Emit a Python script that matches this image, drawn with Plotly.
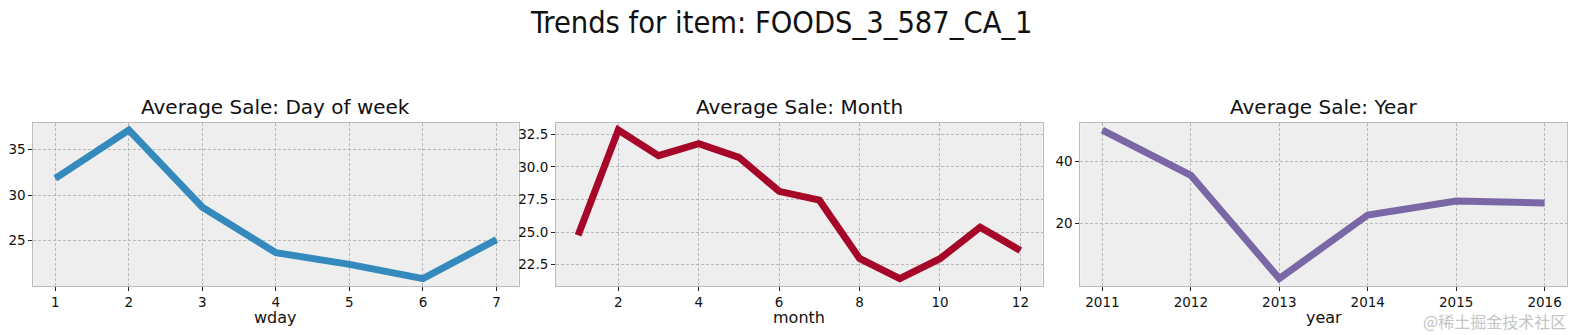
import plotly.graph_objects as go

# ---- data ----
wday = [1, 2, 3, 4, 5, 6, 7]
wday_sales = [31.83, 37.13, 28.66, 23.66, 22.38, 20.82, 25.10]

month = [1, 2, 3, 4, 5, 6, 7, 8, 9, 10, 11, 12]
month_sales = [24.77, 32.82, 30.86, 31.78, 30.73, 28.13, 27.45, 22.98, 21.44, 22.96, 25.38, 23.59]

year = [2011, 2012, 2013, 2014, 2015, 2016]
year_sales = [50.05, 35.5, 2.2, 22.7, 27.2, 26.6]

wday_yticks = [25, 30, 35]
month_xticks = [2, 4, 6, 8, 10, 12]
month_yticks = [22.5, 25.0, 27.5, 30.0, 32.5]
year_yticks = [20, 40]

suptitle = "Trends for item: FOODS_3_587_CA_1"
titles = ["Average Sale: Day of week", "Average Sale: Month", "Average Sale: Year"]
xlabels = ["wday", "month", "year"]
colors = ["#348ABD", "#A60628", "#7A68A6"]
watermark = "@稀土掘金技术社区"

W, H = 1575, 335
# plot areas in pixels (left, right), shared top/bottom
px_x = [(33.3, 518.5), (556.0, 1042.5), (1080.3, 1566.7)]
top_px, bot_px = 122.7, 286.0


def pad(vals, frac=0.05):
    lo, hi = min(vals), max(vals)
    d = (hi - lo) * frac
    return [lo - d, hi + d]


fig = go.Figure()
series = [(wday, wday_sales), (month, month_sales), (year, year_sales)]
xticks = [wday, month_xticks, year]
yticks = [wday_yticks, month_yticks, year_yticks]
yfmt = ["{:g}", "{:.1f}", "{:g}"]

font_main = "DejaVu Sans"
for i, (xs, ys) in enumerate(series):
    n = "" if i == 0 else str(i + 1)
    fig.add_trace(go.Scatter(x=xs, y=ys, mode="lines",
                             line=dict(color=colors[i], width=7),
                             xaxis="x" + n, yaxis="y" + n, showlegend=False,
                             hoverinfo="x+y"))
    common = dict(showline=True, linecolor="#bcbcbc", linewidth=1, mirror=True,
                  showgrid=True, gridcolor="#b8b8b8", gridwidth=0.5, griddash="3px,2px",
                  zeroline=False, ticks="outside", ticklen=4, tickwidth=1,
                  tickcolor="#222222",
                  tickfont=dict(family=font_main, size=13.5, color="#111111"))
    xr = pad(xs)
    cx = (px_x[i][0] + px_x[i][1]) / 2 / W
    fig.update_layout(**{
        "xaxis" + n: dict(domain=[px_x[i][0] / W, px_x[i][1] / W], anchor="y" + n,
                          range=xr, tickmode="array", tickvals=xticks[i],
                          ticktext=[str(v) for v in xticks[i]],
                          **common),
        "yaxis" + n: dict(domain=[1 - bot_px / H, 1 - top_px / H], anchor="x" + n,
                          range=pad(ys), tickmode="array", tickvals=yticks[i],
                          ticktext=[yfmt[i].format(v) for v in yticks[i]],
                          **common),
    })
    fig.add_annotation(text=titles[i], xref="paper", yref="paper",
                       x=cx, y=1 - 107.5 / H,
                       xanchor="center", yanchor="middle", showarrow=False,
                       font=dict(family=font_main, size=20, color="#111111"))
    fig.add_annotation(text=xlabels[i], xref="paper", yref="paper",
                       x=cx, y=1 - 317 / H,
                       xanchor="center", yanchor="middle", showarrow=False,
                       font=dict(family=font_main, size=16, color="#111111"))

fig.add_annotation(text=suptitle, xref="paper", yref="paper",
                   x=781 / W, y=1 - 22 / H, xanchor="center", yanchor="middle",
                   showarrow=False,
                   font=dict(family="DejaVu Sans Condensed, DejaVu Sans", size=30.5, color="#111111"))

fig.add_annotation(text=watermark, xref="paper", yref="paper",
                   x=1568 / W, y=1 - 321 / H, xanchor="right", yanchor="middle",
                   showarrow=False,
                   font=dict(family="Noto Sans CJK SC", size=16, color="#c4c4c4"))

fig.update_layout(width=W, height=H, margin=dict(l=0, r=0, t=0, b=0),
                  paper_bgcolor="white", plot_bgcolor="#EEEEEE",
                  font=dict(family=font_main))

fig.write_html("out.html")
